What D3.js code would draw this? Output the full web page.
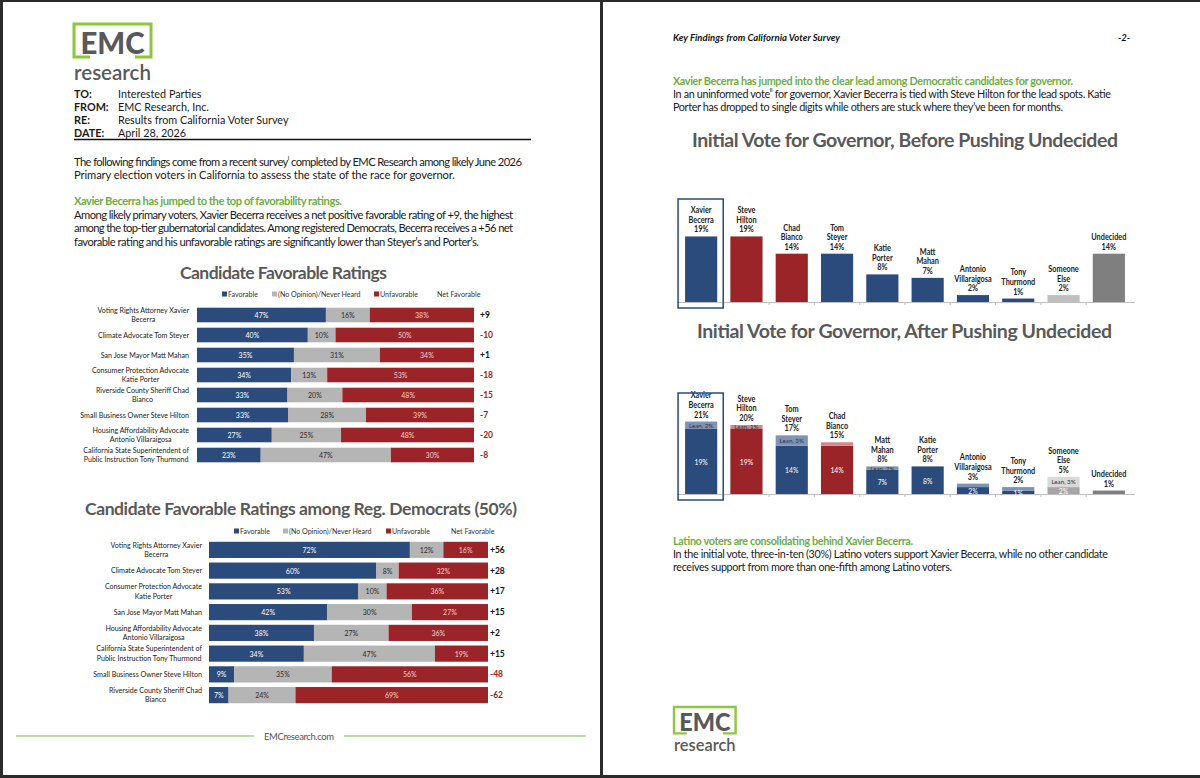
<!DOCTYPE html>
<html><head><meta charset="utf-8">
<script src="https://cdn.jsdelivr.net/npm/d3@7"></script>
<style>
html,body{margin:0;padding:0;background:#2b2b2b;}
svg{display:block;font-family:Lato,"Open Sans",sans-serif;}
</style></head><body>
<svg id="c" width="1200" height="778"></svg>
<script>
// ---------- DATA ----------
const favCats1 = [["Voting Rights Attorney Xavier","Becerra"],["Climate Advocate Tom Steyer"],["San Jose Mayor Matt Mahan"],["Consumer Protection Advocate","Katie Porter"],["Riverside County Sheriff Chad","Bianco"],["Small Business Owner Steve Hilton"],["Housing Affordability Advocate","Antonio Villaraigosa"],["California State Superintendent of","Public Instruction Tony Thurmond"]];
const favFav1 = [47,40,35,34,33,33,27,23];
const favNone1 = [16,10,31,13,20,28,25,47];
const favUnf1 = [38,50,34,53,48,39,48,30];
const favNet1 = [9,-10,1,-18,-15,-7,-20,-8];

const favCats2 = [["Voting Rights Attorney Xavier","Becerra"],["Climate Advocate Tom Steyer"],["Consumer Protection Advocate","Katie Porter"],["San Jose Mayor Matt Mahan"],["Housing Affordability Advocate","Antonio Villaraigosa"],["California State Superintendent of","Public Instruction Tony Thurmond"],["Small Business Owner Steve Hilton"],["Riverside County Sheriff Chad","Bianco"]];
const favFav2 = [72,60,53,42,38,34,9,7];
const favNone2 = [12,8,10,30,27,47,35,24];
const favUnf2 = [16,32,36,27,36,19,56,69];
const favNet2 = [56,28,17,15,2,15,-48,-62];

const legendLabels = ["Favorable","(No Opinion)/Never Heard","Unfavorable","Net Favorable"];

const beforeCats = [["Xavier","Becerra"],["Steve","Hilton"],["Chad","Bianco"],["Tom","Steyer"],["Katie","Porter"],["Matt","Mahan"],["Antonio","Villaraigosa"],["Tony","Thurmond"],["Someone","Else"],["Undecided"]];
const beforeParty = ["D","R","R","D","D","D","D","D","O","U"];
const beforeVals = [19,19,14,14,8,7,2,1,2,14];

const afterCats = [["Xavier","Becerra"],["Steve","Hilton"],["Tom","Steyer"],["Chad","Bianco"],["Matt","Mahan"],["Katie","Porter"],["Antonio","Villaraigosa"],["Tony","Thurmond"],["Someone","Else"],["Undecided"]];
const afterParty = ["D","R","D","R","D","D","D","D","O","U"];
const afterTotal = [21,20,17,15,8,8,3,2,5,1];
const afterBase = [19,19,14,14,7,8,2,1,2,1];
const afterLeanLabel = [2,1,3,null,2,null,null,null,3,null];

// ---------- STYLE ----------
const C = {blue:'#2a4b7c', gray:'#b5b5b5', red:'#9b2428', green:'#70ad47', title:'#595959', text:'#1a1a1a', logo:'#58595b', logoGreen:'#8dc63f'};
const svg = d3.select('#c');

svg.append('rect').attr('width',1200).attr('height',778).attr('fill','#2b2b2b');
svg.append('rect').attr('x',3).attr('y',2).attr('width',597).attr('height',773).attr('fill','#fff');
svg.append('rect').attr('x',603).attr('y',2).attr('width',597).attr('height',773).attr('fill','#fff');

function txt(g, x, y, s, o={}) {
  const t = g.append('text').attr('x',x).attr('y',y).text(s)
    .attr('font-size', o.size||11).attr('fill', o.fill||C.text)
    .attr('font-weight', o.bold?'bold':null)
    .attr('font-style', o.italic?'italic':null)
    .attr('text-anchor', o.anchor||'start')
    .attr('dominant-baseline','central');
  if (o.w) t.attr('textLength', o.w).attr('lengthAdjust', o.adj||'spacing');
  return t;
}
function cond(t, f) {
  const w = t.node().getComputedTextLength();
  t.attr('textLength', w*f).attr('lengthAdjust','spacingAndGlyphs');
  return w*f;
}
function rich(g, x, y, parts, o={}) {
  const t = g.append('text').attr('x',x).attr('y',y)
    .attr('font-size', o.size||11).attr('fill', o.fill||C.text)
    .attr('dominant-baseline','central');
  parts.forEach(p => {
    const ts = t.append('tspan').text(p.s);
    if (p.sup) ts.attr('font-size', 6.5).attr('baseline-shift','super');
  });
  if (o.w) t.attr('textLength', o.w);
  return t;
}
function logo(g, x, y, s) {
  const w = 77*s, h = 33*s, arm = 16*s;
  g.append('path').attr('d', `M${x+arm},${y+h} H${x} V${y} H${x+w} V${y+h} H${x+w-arm}`)
    .attr('fill','none').attr('stroke',C.logoGreen).attr('stroke-width',3*s);
  txt(g, x+w/2, y+h/2+1*s, 'EMC', {size:31*s, bold:true, fill:C.logo, anchor:'middle', w:64*s, adj:'spacingAndGlyphs'})
    .attr('font-weight', 900);
  txt(g, x+w/2, y+47*s, 'research', {size:21*s, fill:C.logo, anchor:'middle', w:77*s, adj:'spacingAndGlyphs'})
    .attr('font-weight', 600);
}

// ---------- LEFT PAGE ----------
const L = svg.append('g');
logo(L, 74, 24, 1);
[['TO:','Interested Parties'],['FROM:','EMC Research, Inc.'],['RE:','Results from California Voter Survey'],['DATE:','April 28, 2026']]
  .forEach((r,i) => {
    txt(L, 74, 93 + i*13, r[0], {size:10.8, bold:true});
    txt(L, 118, 93 + i*13, r[1], {size:10.8});
  });
L.append('line').attr('x1',74).attr('x2',531).attr('y1',139.5).attr('y2',139.5).attr('stroke','#111').attr('stroke-width',1.5);
rich(L, 74, 161, [{s:'The following findings come from a recent survey'},{s:'i',sup:true},{s:' completed by EMC Research among likely June 2026'}], {size:11.2, w:448});
txt(L, 74, 174, 'Primary election voters in California to assess the state of the race for governor.', {size:11.2, w:381});
txt(L, 74, 200, 'Xavier Becerra has jumped to the top of favorability ratings.', {size:11.2, bold:true, fill:C.green, w:268});
txt(L, 74, 214, 'Among likely primary voters, Xavier Becerra receives a net positive favorable rating of +9, the highest', {size:11.2, w:439});
txt(L, 74, 227.5, 'among the top-tier gubernatorial candidates. Among registered Democrats, Becerra receives a +56 net', {size:11.2, w:439});
txt(L, 74, 241, 'favorable rating and his unfavorable ratings are significantly lower than Steyer’s and Porter’s.', {size:11.2, w:405});

txt(L, 180, 272, 'Candidate Favorable Ratings', {size:17.5, bold:true, fill:C.title, w:207});
txt(L, 85, 508, 'Candidate Favorable Ratings among Reg. Democrats (50%)', {size:17.5, bold:true, fill:C.title, w:432});

function favChart(cfg) {
  const g = svg.append('g');
  const n = cfg.cats.length;
  const x = d3.scaleLinear().domain([0,100]).range([cfg.x0, cfg.x1]);
  const y = d3.scaleBand().domain(d3.range(n)).range([cfg.y0, cfg.y1]).paddingInner(cfg.pad).paddingOuter(cfg.pad/2);
  const legCols = [C.blue, C.gray, C.red, null];
  legendLabels.forEach((lb, i) => {
    const lx = cfg.legX[i];
    if (legCols[i]) g.append('rect').attr('x', lx).attr('y', cfg.legY-2.5).attr('width',5).attr('height',5).attr('fill', legCols[i]);
    txt(g, legCols[i] ? lx+6 : lx, cfg.legY, lb, {size:7.1, fill:'#333'});
  });
  cfg.cats.forEach((lines, i) => {
    const tot = cfg.fav[i] + cfg.none[i] + cfg.unf[i];
    const segs = [
      {v:cfg.fav[i], c:C.blue, t:'#ffffff'},
      {v:cfg.none[i], c:C.gray, t:'#2a2a2a'},
      {v:cfg.unf[i], c:C.red, t:'#f3d2d2'}
    ];
    let cum = 0;
    const cy = y(i) + y.bandwidth()/2;
    segs.forEach(s => {
      const a = x(cum/tot*100), b = x((cum+s.v)/tot*100);
      g.append('rect').attr('x', a).attr('y', y(i)).attr('width', b-a).attr('height', y.bandwidth()).attr('fill', s.c);
      txt(g, (a+b)/2, cy, s.v + '%', {size:7, fill:s.t, anchor:'middle'});
      cum += s.v;
    });
    const nv = cfg.net[i];
    txt(g, cfg.netX, cy, nv > 0 ? '+' + nv : String(nv), {size:8.5, bold:true, fill: nv >= 0 ? '#111' : C.red});
    const lh = 9.3;
    const ts = lines.map((s, k) => txt(g, 0, cy + (k - (lines.length-1)/2)*lh, s, {size:7.1, fill:'#222', anchor:'middle'}));
    const ws = ts.map(t => t.node().getComputedTextLength());
    const cx = cfg.labelRight - d3.max(ws)/2;
    ts.forEach(t => t.attr('x', cx));
  });
}

favChart({cats:favCats1, fav:favFav1, none:favNone1, unf:favUnf1, net:favNet1,
  x0:197, x1:474, y0:305, y1:465, pad:0.27, labelRight:189, netX:480,
  legY:294, legX:[222,272,374,437]});
favChart({cats:favCats2, fav:favFav2, none:favNone2, unf:favUnf2, net:favNet2,
  x0:209, x1:488, y0:539.5, y1:705.5, pad:0.22, labelRight:202, netX:490,
  legY:531, legX:[234,283,386,451]});

// footer
L.append('line').attr('x1',16).attr('x2',254).attr('y1',736).attr('y2',736).attr('stroke','#a9d18e').attr('stroke-width',1.5);
L.append('line').attr('x1',344).attr('x2',586).attr('y1',736).attr('y2',736).attr('stroke','#a9d18e').attr('stroke-width',1.5);
txt(L, 299, 736, 'EMCresearch.com', {size:9.5, fill:'#555', anchor:'middle', w:70});

// ---------- RIGHT PAGE ----------
const R = svg.append('g');
txt(R, 673, 37, 'Key Findings from California Voter Survey', {size:9.5, bold:true, italic:true, fill:'#111', w:167});
txt(R, 1130, 37, '-2-', {size:9.5, bold:true, italic:true, fill:'#111', anchor:'end'});
txt(R, 673, 80, 'Xavier Becerra has jumped into the clear lead among Democratic candidates for governor.', {size:10.8, bold:true, fill:C.green, w:400});
rich(R, 673, 93, [{s:'In an uninformed vote'},{s:'ii',sup:true},{s:' for governor, Xavier Becerra is tied with Steve Hilton for the lead spots. Katie'}], {size:10.8, w:438});
txt(R, 673, 106, 'Porter has dropped to single digits while others are stuck where they’ve been for months.', {size:10.8, w:390});
txt(R, 692, 139, 'Initial Vote for Governor, Before Pushing Undecided', {size:19.5, bold:true, fill:C.title, w:426});
txt(R, 697, 330, 'Initial Vote for Governor, After Pushing Undecided', {size:19.5, bold:true, fill:C.title, w:415});
txt(R, 673, 540, 'Latino voters are consolidating behind Xavier Becerra.', {size:10.8, bold:true, fill:C.green, w:240});
txt(R, 673, 553, 'In the initial vote, three-in-ten (30%) Latino voters support Xavier Becerra, while no other candidate', {size:10.8, w:435});
txt(R, 673, 566, 'receives support from more than one-fifth among Latino voters.', {size:10.8, w:279});
logo(R, 674, 707, 0.8);

function voteChart(cfg) {
  const g = svg.append('g');
  const n = cfg.cats.length;
  const x = d3.scaleBand().domain(d3.range(n)).range([678.5, 1131.5]).paddingInner(0.29).paddingOuter(0.145);
  const y = d3.scaleLinear().domain([0, 20]).range([cfg.baseY, cfg.baseY - 69]);
  const baseCol = {D:C.blue, R:C.red, O:cfg.otherCol, U:'#7f7f7f'};
  const leanCol = {D:'#7f93b5', R:'#d4878a', O:'#d9d9d9', U:'#bfbfbf'};
  g.append('line').attr('x1',677).attr('x2',1135).attr('y1',cfg.baseY+0.5).attr('y2',cfg.baseY+0.5).attr('stroke','#bfbfbf').attr('stroke-width',1);
  for (let i = 1; i < n; i++) {
    const xx = x(i) - x.step()*x.paddingInner()/2;
    g.append('line').attr('x1',xx).attr('x2',xx).attr('y1',cfg.baseY).attr('y2',cfg.baseY+3).attr('stroke','#bfbfbf');
  }
  cfg.cats.forEach((lines, i) => {
    const p = cfg.party[i];
    const bx = x(i), bw = x.bandwidth();
    const tot = cfg.total[i];
    const base = cfg.base ? cfg.base[i] : tot;
    g.append('rect').attr('x',bx).attr('y',y(base)).attr('width',bw).attr('height',y(0)-y(base)).attr('fill',baseCol[p]);
    if (tot > base) {
      g.append('rect').attr('x',bx).attr('y',y(tot)).attr('width',bw).attr('height',y(base)-y(tot)).attr('fill',leanCol[p]);
    }
    if (cfg.base && p !== 'U') {
      txt(g, bx+bw/2, (y(base)+y(0))/2 + 0.5, base + '%', {size:6.8, fill:'#fff', anchor:'middle'});
    }
    if (cfg.leanLabel && cfg.leanLabel[i] != null) {
      txt(g, bx+bw/2, (y(base)+y(tot))/2, 'Lean, ' + cfg.leanLabel[i] + '%', {size:6.2, fill:'#333', anchor:'middle'});
    }
    const all = lines.concat([tot + '%']);
    all.forEach((s, k) => {
      const t = txt(g, bx+bw/2, y(tot) - 7 - (all.length-1-k)*9.6, s, {size:8.6, bold:true, fill:'#222', anchor:'middle'});
      cond(t, 0.85);
    });
  });
  g.append('rect').attr('x', x(0)-7).attr('y', cfg.boxTop).attr('width', x.bandwidth()+13).attr('height', cfg.baseY + 6 - cfg.boxTop)
    .attr('fill','none').attr('stroke',C.blue).attr('stroke-width',1.5);
}

voteChart({cats:beforeCats, party:beforeParty, total:beforeVals, baseY:302, boxTop:199, otherCol:'#bfbfbf'});
voteChart({cats:afterCats, party:afterParty, total:afterTotal, base:afterBase, leanLabel:afterLeanLabel, baseY:494, boxTop:393, otherCol:'#a6a6a6'});
</script>
</body></html>
